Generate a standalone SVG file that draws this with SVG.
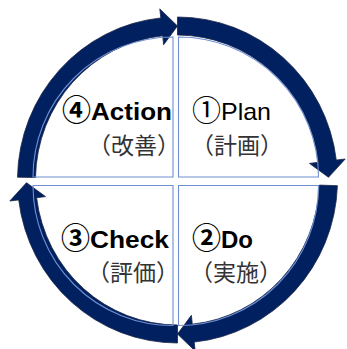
<svg xmlns="http://www.w3.org/2000/svg" width="347" height="349" viewBox="0 0 347 349">
<style>
.arrow{fill:#002060;stroke:#1a2448;stroke-width:0.8;stroke-linejoin:miter}
.sector{fill:none;stroke:#6F8FD2;stroke-width:1.1}
.lat{font-family:"Liberation Sans","Noto Sans CJK JP",sans-serif;font-size:24px;fill:#000}
.b{font-weight:bold}
.dig{font-family:"Noto Sans CJK JP",sans-serif;font-size:29px}
.jp{font-family:"Noto Sans CJK JP",sans-serif;font-size:23px;fill:#333}
</style>
<rect width="347" height="349" fill="#fff"/>
<g id="connectors">
<path id="arrow-plan-do" class="arrow" d="M177.5,17 A160,163 0 0 1 336.3,160.1 L345.2,159 L328.5,177.3 L309.5,163.4 L318.4,162.3 A142,145 0 0 0 177.5,35 Z"/>
<path id="arrow-do-check" class="arrow" d="M337.4,185.7 A160,163 0 0 1 194.2,342.1 L195.2,351.1 L177.5,334 L191.4,315.3 L192.3,324.2 A142,145 0 0 0 319.4,185.1 Z"/>
<path id="arrow-check-action" class="arrow" d="M177.5,343 A160,163 0 0 1 18.7,199.9 L9.8,201 L26.5,182.7 L45.5,196.6 L36.6,197.7 A142,145 0 0 0 177.5,325 Z"/>
<path id="arrow-action-plan" class="arrow" d="M17.5,177.2 A160,163 0 0 1 160.8,17.9 L159.8,8.9 L177.5,26 L163.6,44.8 L162.7,35.8 A142,145 0 0 0 35.5,177.5 Z"/>
</g>
<g id="plan">
<path class="sector" d="M178.5,177 V37 A140,140 0 0 1 318.5,177 Z"/>
<text class="lat" y="120"><tspan class="dig" x="192" dy="1">①</tspan><tspan x="221" dy="-1" textLength="50" lengthAdjust="spacingAndGlyphs">Plan</tspan></text>
<text class="jp" x="191" y="154">（計画）</text>
</g>
<g id="do">
<path class="sector" d="M178.5,185.5 H318.5 A140,140 0 0 1 178.5,325.5 Z"/>
<text class="lat b" y="248"><tspan class="dig" x="192" dy="1">②</tspan><tspan x="221" dy="-1" textLength="32" lengthAdjust="spacingAndGlyphs">Do</tspan></text>
<text class="jp" x="190" y="281">（実施）</text>
</g>
<g id="check">
<path class="sector" d="M173,185.5 V325.5 A140,140 0 0 1 33,185.5 Z"/>
<text class="lat b" y="248"><tspan class="dig" x="61" dy="1">③</tspan><tspan x="90" dy="-1" textLength="79" lengthAdjust="spacingAndGlyphs">Check</tspan></text>
<text class="jp" x="87" y="281">（評価）</text>
</g>
<g id="action">
<path class="sector" d="M173,177 H33 A140,140 0 0 1 173,37 Z"/>
<text class="lat b" y="120"><tspan class="dig" x="62" dy="1">④</tspan><tspan x="91" dy="-1" textLength="81" lengthAdjust="spacingAndGlyphs">Action</tspan></text>
<text class="jp" x="88" y="154">（改善）</text>
</g>
</svg>
